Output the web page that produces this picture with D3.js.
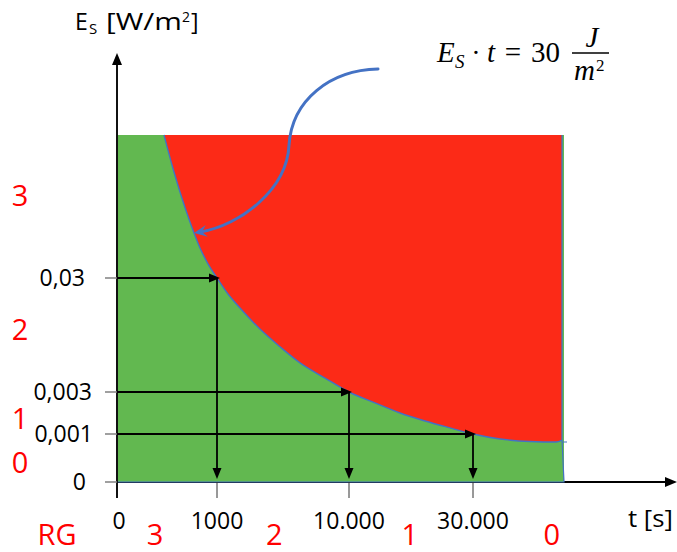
<!DOCTYPE html>
<html><head><meta charset="utf-8">
<script src="https://cdn.jsdelivr.net/npm/d3@7"></script>
<style>body{margin:0;background:#fff}svg{display:block}</style>
</head><body>
<svg id="c" width="677" height="552"></svg>
<script>
// ---------- data ----------
const tTicks = [0, 1000, 10000, 30000];
const tTickLabels = ["0", "1000", "10.000", "30.000"];
const eTicks = [0, 0.001, 0.003, 0.03];
const eTickLabels = ["0", "0,001", "0,003", "0,03"];
const tDomain = [0, 1000, 10000, 30000, 45000];
const eDomain = [0, 0.001, 0.003, 0.03, 0.1];
// boundary E_S * t = 30 J/m^2
const curveT = [470, 550, 630, 730, 830, 910, 1000, 1750, 2570, 3930, 5300, 6660, 8360, 10000, 14190, 18230, 22260, 26290, 30000, 34550, 39610, 43990, 45000];
const curveE = [0.1, 0.0853, 0.0721, 0.0574, 0.0447, 0.0369, 0.03, 0.0262, 0.0229, 0.0179, 0.0137, 0.0099, 0.0063, 0.003, 0.00248, 0.0020, 0.00162, 0.00129, 0.001, 0.000896, 0.000844, 0.000833, 0.000875];
// marked points on the boundary
const markT = [1000, 10000, 30000];
const markE = [0.03, 0.003, 0.001];
// risk-group labels
const rgLabelsT = ["3", "2", "1", "0"];
const rgPosT = [380, 4900, 19800, 43300];
const rgLabelsE = ["3", "2", "1", "0"];
const rgPosE = [0.0706, 0.0179, 0.00176, 0.00042];
// annotation arrow: start, ctrl, ctrl, mid, ctrl, ctrl, end (data coordinates)
const annT = [14680, 8700, 6110, 5910, 5770, 2570, 770];
const annE = [0.1323, 0.1318, 0.1171, 0.0951, 0.0731, 0.0559, 0.0520];

// ---------- layout ----------
const svg = d3.select("#c");
const x = d3.scaleLinear().domain(tDomain).range([117, 217, 349, 473, 562]);
const y = d3.scaleLinear().domain(eDomain).range([482, 434, 392, 278, 135]);
const tMax = tDomain[tDomain.length - 1], eMax = eDomain[eDomain.length - 1];
const GREEN = "#62B850", RED = "#FC2A17", BLUE = "#4472C4";
const FONT = "'Open Sans', 'Noto Sans', sans-serif";

// x axis (black, with arrow)
svg.append("line").attr("x1", x(0)).attr("x2", 668).attr("y1", y(0)).attr("y2", y(0))
  .attr("stroke", "#000").attr("stroke-width", 2);
svg.append("path").attr("d", `M677,${y(0)} L665,${y(0)-5} L665,${y(0)+5} Z`).attr("fill", "#000");

// green region
svg.append("rect").attr("x", x(0)).attr("y", y(eMax))
  .attr("width", x(tMax) + 2 - x(0)).attr("height", y(0) - y(eMax)).attr("fill", GREEN);

// red region
const pts = curveT.map((t, i) => [t, curveE[i]]);
const area = d3.area().x(d => x(d[0])).y0(y(eMax)).y1(d => y(d[1])).curve(d3.curveMonotoneX);
svg.append("path").attr("d", area(pts)).attr("fill", RED);

// blue outlines
const line = d3.line().x(d => x(d[0])).y(d => y(d[1])).curve(d3.curveMonotoneX);
svg.append("path").attr("d", line(pts)).attr("fill", "none").attr("stroke", BLUE).attr("stroke-width", 1.4);
const eEnd = curveE[curveE.length - 1];
svg.append("path")
  .attr("d", `M${x(tMax)},${y(eMax)} L${x(tMax)},${y(eEnd)} L${x(tMax)+2},${y(0)} L${x(0)},${y(0)}`)
  .attr("fill", "none").attr("stroke", BLUE).attr("stroke-width", 1.2);
svg.append("line").attr("x1", x(tMax)).attr("x2", x(tMax) + 5)
  .attr("y1", y(eEnd) + 2).attr("y2", y(eEnd) + 2)
  .attr("stroke", BLUE).attr("stroke-width", 1);

// y axis
svg.append("line").attr("x1", x(0)).attr("x2", x(0)).attr("y1", 62).attr("y2", 498)
  .attr("stroke", "#111").attr("stroke-width", 2);
svg.append("path").attr("d", `M${x(0)},53 L${x(0)-5},65 L${x(0)+5},65 Z`).attr("fill", "#000");

// y ticks + labels
eTicks.forEach(e => {
  svg.append("line").attr("x1", 105).attr("x2", x(0)).attr("y1", y(e)).attr("y2", y(e))
    .attr("stroke", "#808080").attr("stroke-width", 1.5);
});
const yLabX = [86, 93, 92, 85];
svg.selectAll(".ylab").data(eTicks).join("text")
  .attr("x", (d, i) => yLabX[i]).attr("y", d => y(d) + 8)
  .attr("text-anchor", "end").attr("font-family", FONT).attr("font-size", 23).attr("fill", "#000")
  .text((d, i) => eTickLabels[i]);

// x ticks + labels
tTicks.slice(1).forEach(t => {
  svg.append("line").attr("x1", x(t)).attr("x2", x(t)).attr("y1", y(0)).attr("y2", 498)
    .attr("stroke", "#333").attr("stroke-width", 1);
});
svg.selectAll(".xlab").data(tTicks).join("text")
  .attr("x", (d, i) => i === 0 ? x(d) + 2 : x(d)).attr("y", 529)
  .attr("text-anchor", "middle").attr("font-family", FONT).attr("font-size", 23).attr("fill", "#000")
  .text((d, i) => tTickLabels[i]);

// arrows to/from the boundary
markT.forEach((t, i) => {
  const px = x(t), py = y(markE[i]);
  svg.append("line").attr("x1", x(0)).attr("x2", px - 6).attr("y1", py).attr("y2", py)
    .attr("stroke", "#000").attr("stroke-width", 1.8);
  svg.append("path").attr("d", `M${px+3},${py} L${px-8},${py-4.5} L${px-8},${py+4.5} Z`).attr("fill", "#000");
  svg.append("line").attr("x1", px).attr("x2", px).attr("y1", py).attr("y2", y(0) - 8)
    .attr("stroke", "#000").attr("stroke-width", 1.8);
  svg.append("path").attr("d", `M${px},${y(0)-3} L${px-4.5},${y(0)-14} L${px+4.5},${y(0)-14} Z`).attr("fill", "#000");
});

// annotation arrow (two cubic segments)
const A = annT.map((t, i) => [x(t), y(annE[i])]);
const tip = A[6];
const ang = Math.atan2(tip[1] - A[5][1], tip[0] - A[5][0]);
const endP = [tip[0] - 7*Math.cos(ang), tip[1] - 7*Math.sin(ang)];
const p = d3.path();
p.moveTo(A[0][0], A[0][1]);
p.bezierCurveTo(A[1][0], A[1][1], A[2][0], A[2][1], A[3][0], A[3][1]);
p.bezierCurveTo(A[4][0], A[4][1], A[5][0], A[5][1], endP[0], endP[1]);
svg.append("path").attr("d", p.toString()).attr("fill", "none")
  .attr("stroke", BLUE).attr("stroke-width", 3).attr("stroke-linecap", "round");
const hl = 13, hw = 6;
const bx = tip[0] - hl*Math.cos(ang), by = tip[1] - hl*Math.sin(ang);
svg.append("path").attr("d",
  `M${tip[0]},${tip[1]} L${bx - hw*Math.sin(ang)},${by + hw*Math.cos(ang)} L${tip[0]-8*Math.cos(ang)},${tip[1]-8*Math.sin(ang)} L${bx + hw*Math.sin(ang)},${by - hw*Math.cos(ang)} Z`)
  .attr("fill", BLUE);

// risk-group labels (red)
svg.append("text").attr("x", 57).attr("y", 545).attr("text-anchor", "middle")
  .attr("font-family", FONT).attr("font-size", 29).attr("fill", "#FF0000").text("RG");
svg.selectAll(".rgt").data(rgPosT).join("text")
  .attr("x", d => x(d)).attr("y", 545).attr("text-anchor", "middle")
  .attr("font-family", FONT).attr("font-size", 29).attr("fill", "#FF0000")
  .text((d, i) => rgLabelsT[i]);
svg.selectAll(".rge").data(rgPosE).join("text")
  .attr("x", 20).attr("y", d => y(d) + 11).attr("text-anchor", "middle")
  .attr("font-family", FONT).attr("font-size", 29).attr("fill", "#FF0000")
  .text((d, i) => rgLabelsE[i]);

// axis titles
svg.append("text").attr("x", 75).attr("y", 30).attr("font-family", FONT).attr("font-size", 23).attr("fill", "#000").text("E");
svg.append("text").attr("x", 89).attr("y", 34).attr("font-family", FONT).attr("font-size", 15).attr("fill", "#000").text("S");
svg.append("text").attr("x", 106).attr("y", 30).attr("font-family", FONT).attr("font-size", 23).attr("fill", "#000")
  .attr("textLength", 76).attr("lengthAdjust", "spacingAndGlyphs").text("[W/m");
svg.append("text").attr("x", 182).attr("y", 22).attr("font-family", FONT).attr("font-size", 14).attr("fill", "#000").text("2");
svg.append("text").attr("x", 191).attr("y", 30).attr("font-family", FONT).attr("font-size", 23).attr("fill", "#000").text("]");
svg.append("text").attr("x", 628).attr("y", 527).attr("font-family", FONT).attr("font-size", 23).attr("fill", "#000")
  .attr("textLength", 45).attr("lengthAdjust", "spacingAndGlyphs").text("t [s]");

// formula  E_S · t = 30 J/m²
const SERIF = "'Liberation Serif', 'DejaVu Serif', serif";
const f = (tx, ty, s, size, italic, anchor) => svg.append("text").attr("x", tx).attr("y", ty)
  .attr("font-family", SERIF).attr("font-size", size).attr("font-style", italic ? "italic" : "normal")
  .attr("text-anchor", anchor || "start").attr("fill", "#000").text(s);
f(437, 62, "E", 29, true);
f(455, 68, "S", 19, true);
f(476, 62, "·", 28, false, "middle");
f(487, 62, "t", 29, true);
f(513, 62, "=", 29, false, "middle");
f(531, 62, "30", 29, false);
f(592, 47, "J", 29, true, "middle");
svg.append("line").attr("x1", 572).attr("x2", 609).attr("y1", 53).attr("y2", 53).attr("stroke", "#000").attr("stroke-width", 1.5);
f(574, 80, "m", 29, true);
f(596, 71, "2", 17, false);
</script>
</body></html>
